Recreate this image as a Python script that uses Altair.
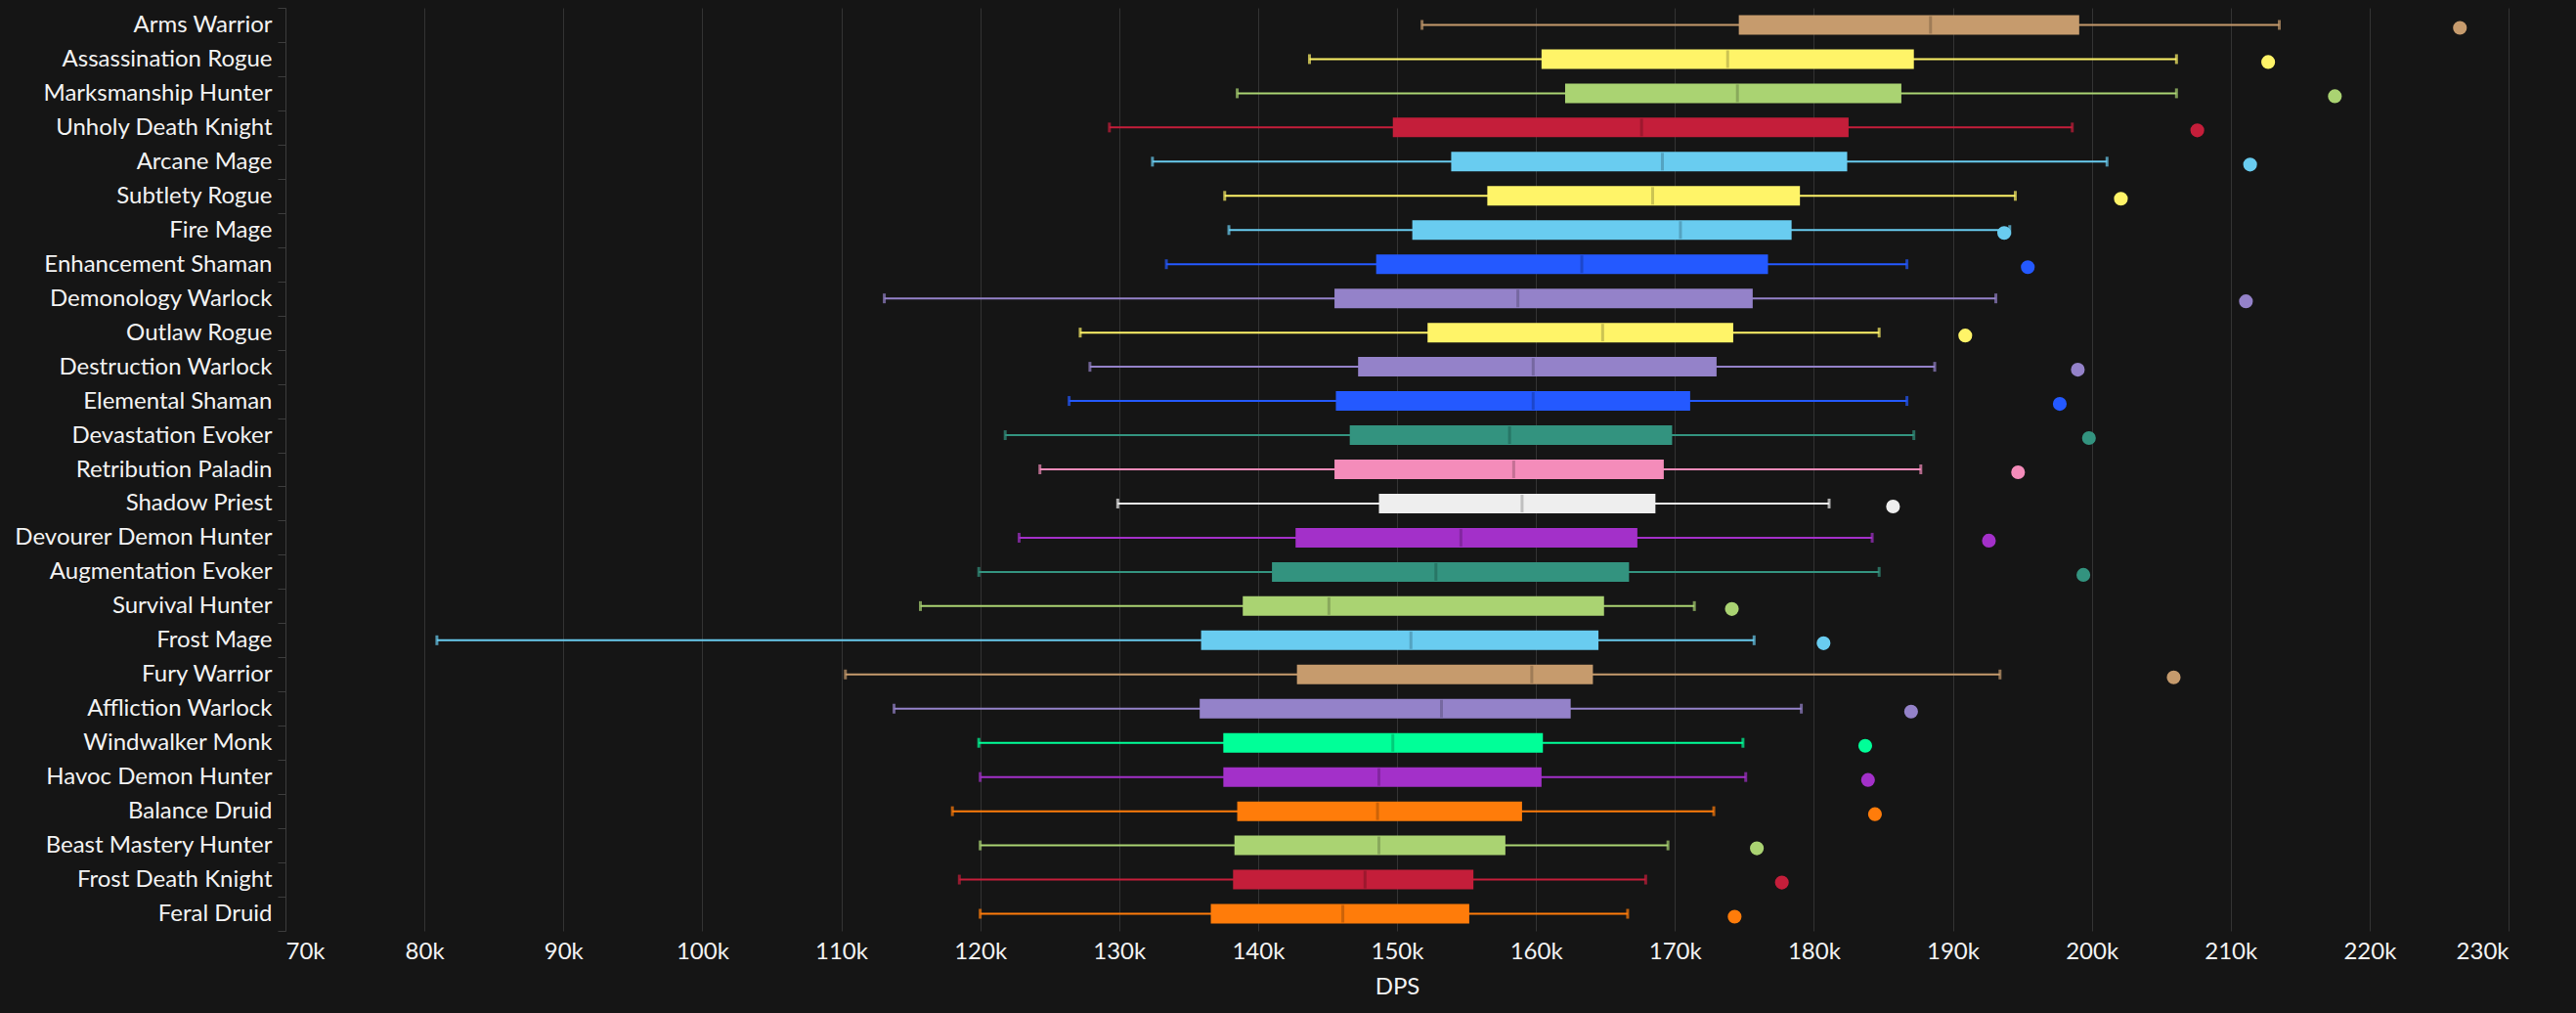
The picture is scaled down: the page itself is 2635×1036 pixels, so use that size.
import altair as alt
import pandas as pd
import jinja2

specs = ["Arms Warrior", "Assassination Rogue", "Marksmanship Hunter", "Unholy Death Knight",
         "Arcane Mage", "Subtlety Rogue", "Fire Mage", "Enhancement Shaman", "Demonology Warlock",
         "Outlaw Rogue", "Destruction Warlock", "Elemental Shaman", "Devastation Evoker",
         "Retribution Paladin", "Shadow Priest", "Devourer Demon Hunter", "Augmentation Evoker",
         "Survival Hunter", "Frost Mage", "Fury Warrior", "Affliction Warlock", "Windwalker Monk",
         "Havoc Demon Hunter", "Balance Druid", "Beast Mastery Hunter", "Frost Death Knight",
         "Feral Druid"]

low =    [151.8, 143.7, 138.5, 129.3, 132.4, 137.6, 137.9, 133.4, 113.1, 127.2, 127.9, 126.4, 121.8,
          124.3, 129.9, 122.8, 119.9, 115.7, 80.9, 110.3, 113.8, 119.9, 120.0, 118.0, 120.0, 118.5, 120.0]
q1 =     [174.6, 160.4, 162.1, 149.7, 153.9, 156.5, 151.1, 148.5, 145.5, 152.2, 147.2, 145.6, 146.6,
          145.5, 148.7, 142.7, 141.0, 138.9, 135.9, 142.8, 135.8, 137.5, 137.5, 138.5, 138.3, 138.2, 136.6]
median = [188.4, 173.8, 174.5, 167.6, 169.1, 168.4, 170.4, 163.3, 158.7, 164.8, 159.8, 159.8, 158.1,
          158.4, 159.0, 154.6, 152.8, 145.1, 151.0, 159.7, 153.2, 149.7, 148.7, 148.6, 148.7, 147.7, 146.1]
q3 =     [199.1, 187.2, 186.3, 182.5, 182.4, 179.0, 178.4, 176.7, 175.6, 174.2, 173.0, 171.1, 169.8,
          169.2, 168.6, 167.3, 166.7, 164.9, 164.5, 164.1, 162.5, 160.5, 160.4, 159.0, 157.8, 155.5, 155.2]
high =   [213.5, 206.1, 206.1, 198.6, 201.1, 194.5, 194.1, 186.7, 193.1, 184.7, 188.7, 186.7, 187.2,
          187.7, 181.1, 184.2, 184.7, 171.4, 175.7, 193.4, 179.1, 174.9, 175.1, 172.8, 169.5, 167.9, 166.6]
top =    [226.5, 212.7, 217.5, 207.6, 211.4, 202.1, 193.7, 195.4, 211.1, 190.9, 199.0, 197.7, 199.8,
          194.7, 185.7, 192.6, 199.4, 174.1, 180.7, 205.9, 187.0, 183.7, 183.9, 184.4, 175.9, 177.7, 174.3]

class_colors = {
    "Warrior": "#C69B6D", "Rogue": "#FFF468", "Hunter": "#AAD372", "Death Knight": "#C41E3A",
    "Mage": "#69CCF0", "Shaman": "#2459FF", "Warlock": "#9482C9", "Evoker": "#33937F",
    "Paladin": "#F48CBA", "Priest": "#EEEEEE", "Demon Hunter": "#A330C9", "Monk": "#00FF98",
    "Druid": "#FF7C0A",
}

BG = "#151515"


def class_of(name):
    for c in ["Death Knight", "Demon Hunter"]:
        if name.endswith(c):
            return c
    return name.split()[-1]


def darker(hexc, f=0.72):
    h = hexc.lstrip("#")
    r, g, b = (int(h[i:i + 2], 16) for i in (0, 2, 4))
    return "#%02x%02x%02x" % (int(r * f), int(g * f), int(b * f))


colors = [class_colors[class_of(s)] for s in specs]

df = pd.DataFrame({
    "spec": specs,
    "low": [v * 1000 for v in low],
    "q1": [v * 1000 for v in q1],
    "median": [v * 1000 for v in median],
    "q3": [v * 1000 for v in q3],
    "high": [v * 1000 for v in high],
    "top": [v * 1000 for v in top],
    "color": colors,
    "dark": [darker(c) for c in colors],
})

xscale = alt.Scale(domain=[70000, 230000], nice=False, zero=False)
yscale = alt.Scale(paddingInner=0, paddingOuter=0)
yaxis = alt.Axis(title=None, labelFontSize=24, labelColor="#f2f2f2", tickColor="#3c3c3c",
                 domainColor="#3c3c3c", tickSize=8, tickBand="extent", labelPadding=6,
                 labelLimit=400, grid=False)
xaxis = alt.Axis(title="DPS", values=list(range(70000, 230001, 10000)),
                 labelExpr="datum.value / 1000 + 'k'", domain=False, ticks=False, grid=True,
                 gridColor="#333333", gridWidth=1, labelFontSize=24, labelColor="#f2f2f2",
                 labelPadding=9, titleFontSize=24, titleColor="#f2f2f2", titleFontWeight="normal",
                 titlePadding=12)

base = alt.Chart(df)
yo = alt.Y("spec:N", sort=specs, scale=yscale, axis=yaxis)


def xo(field):
    return alt.X(field, scale=xscale, axis=xaxis)


whisker = base.mark_rule(strokeWidth=2).encode(
    x=xo("low:Q"), x2="high:Q", y=yo, color=alt.Color("color:N", scale=None))
box = base.mark_bar(size=20).encode(
    x=xo("q1:Q"), x2="q3:Q", y=yo, color=alt.Color("color:N", scale=None))
med = base.mark_tick(size=18, thickness=3).encode(
    x=xo("median:Q"), y=yo, color=alt.Color("dark:N", scale=None))
cap_lo = base.mark_tick(size=10, thickness=3).encode(
    x=xo("low:Q"), y=yo, color=alt.Color("color:N", scale=None))
cap_hi = base.mark_tick(size=10, thickness=3).encode(
    x=xo("high:Q"), y=yo, color=alt.Color("color:N", scale=None))
dot = base.mark_circle(size=200, opacity=1, yOffset=3).encode(
    x=xo("top:Q"), y=yo, color=alt.Color("color:N", scale=None))

chart = alt.layer(whisker, box, med, cap_lo, cap_hi, dot).properties(
    width=2274, height=944,
    autosize=alt.AutoSizeParams(type="none"),
    padding={"left": 284, "top": 0, "right": 61, "bottom": 76},
    background=BG,
).configure(
    font="Lato"
).configure_view(
    strokeWidth=0, stroke="transparent"
).configure_axisX(
    domain=False
).configure_axisY(
    grid=False
)

page = jinja2.Template("""<!DOCTYPE html>
<html>
<head>
  <style>
    html, body { background: """ + BG + """; }
    #{{ output_div }}.vega-embed { width: 100%; display: flex; }
    #{{ output_div }}.vega-embed details,
    #{{ output_div }}.vega-embed details summary { position: relative; }
  </style>
  <script type="text/javascript" src="{{ base_url }}/vega@{{ vega_version }}"></script>
  <script type="text/javascript" src="{{ base_url }}/vega-lite@{{ vegalite_version }}"></script>
  <script type="text/javascript" src="{{ base_url }}/vega-embed@{{ vegaembed_version }}"></script>
</head>
<body>
  <div id="{{ output_div }}"></div>
  <script>
    (function(vegaEmbed) {
      var spec = {{ spec }};
      var embedOpt = {{ embed_options }};
      function showError(el, error){
        el.innerHTML = ('<div style="color:red;"><p>JavaScript Error: ' + error.message + '</p></div>');
        throw error;
      }
      const el = document.getElementById('{{ output_div }}');
      vegaEmbed("#{{ output_div }}", spec, embedOpt).catch(error => showError(el, error));
    })(vegaEmbed);
  </script>
</body>
</html>
""")

chart.save("out.html", embed_options={"renderer": "svg", "actions": False}, template=page)
